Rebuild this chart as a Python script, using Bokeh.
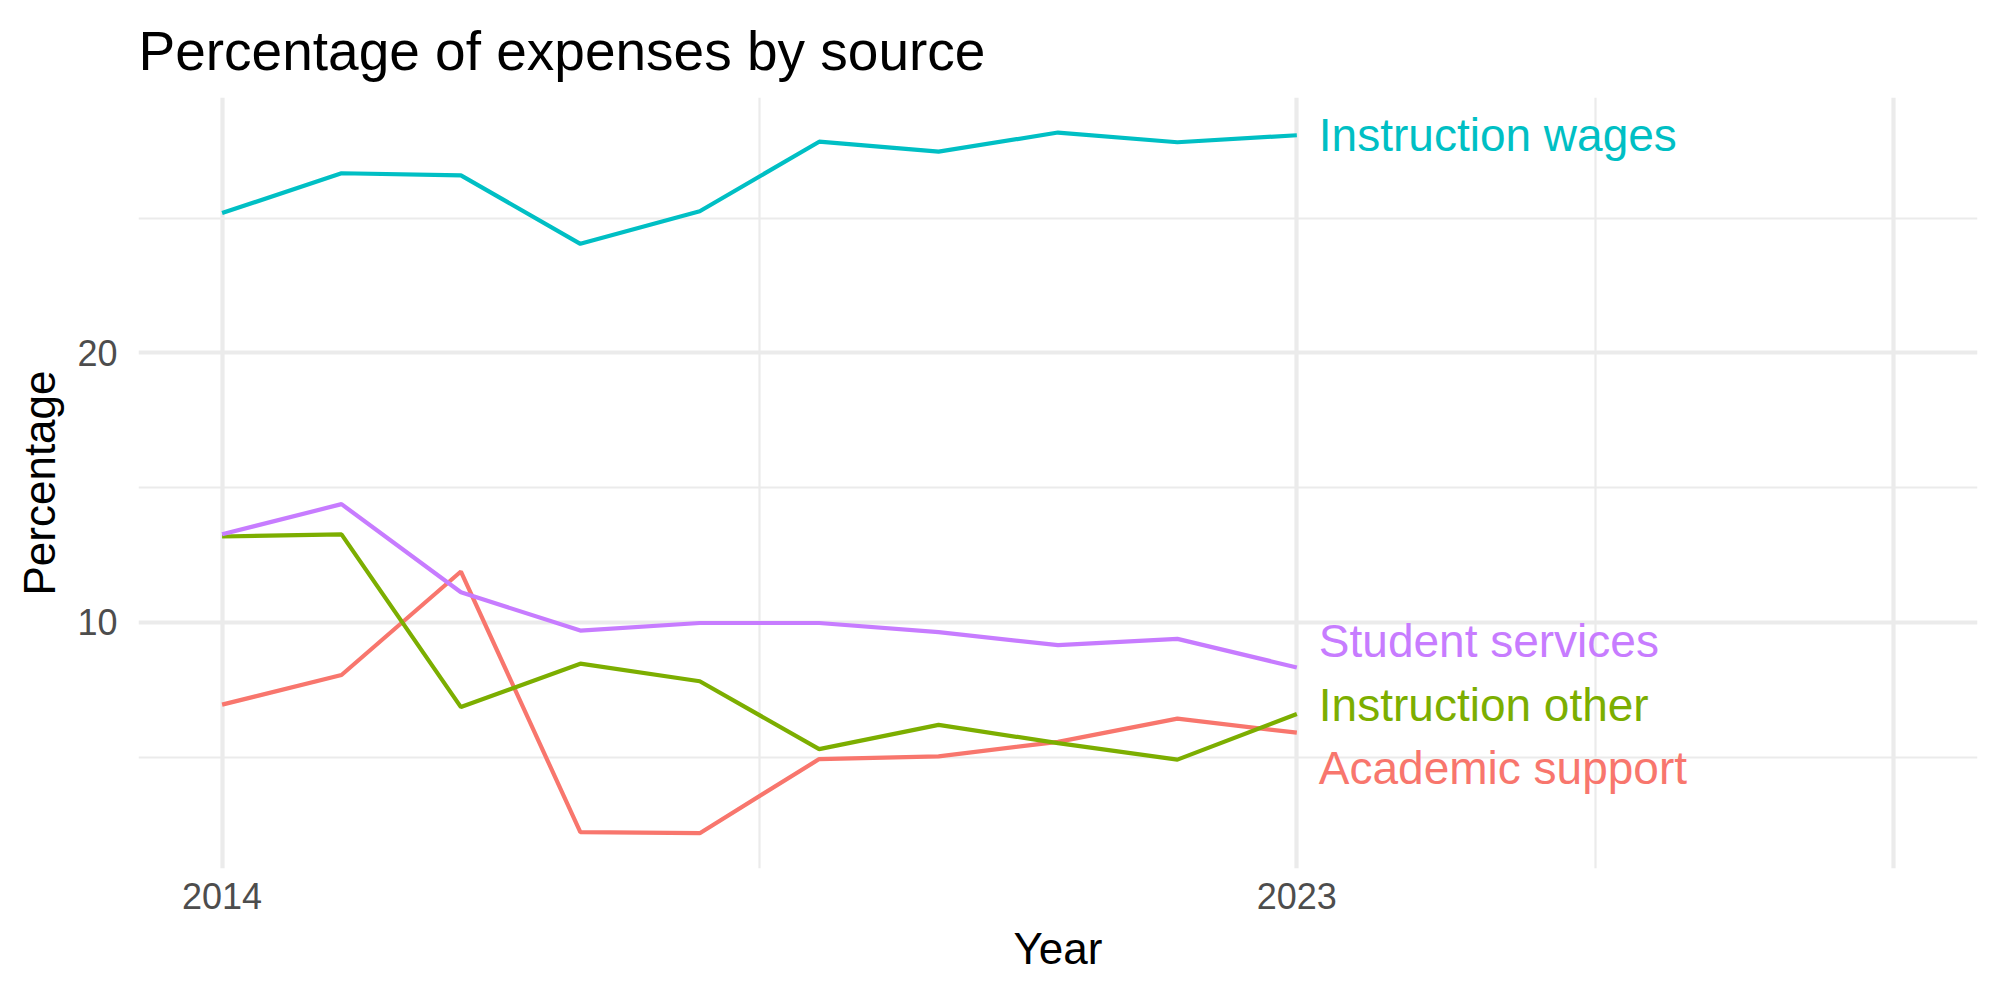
from bokeh.plotting import figure
from bokeh.models import Range1d, FixedTicker, ColumnDataSource
from bokeh.embed import file_html
from bokeh.resources import INLINE
from bokeh.core.properties import value

# Share of total expenses (%) per year and source
years = [2014, 2015, 2016, 2017, 2018, 2019, 2020, 2021, 2022, 2023]
academic_support = [6.95, 8.05, 11.89, 2.22, 2.18, 4.93, 5.03, 5.57, 6.43, 5.91]
instruction_other = [13.19, 13.27, 6.86, 8.47, 7.82, 5.30, 6.20, 5.52, 4.91, 6.60]
instruction_wages = [25.19, 26.67, 26.59, 24.05, 25.26, 27.84, 27.47, 28.18, 27.82, 28.08]
student_services = [13.27, 14.39, 11.12, 9.70, 9.98, 9.98, 9.64, 9.16, 9.39, 8.33]

series_names = ["Academic support", "Instruction other", "Instruction wages", "Student services"]
series_values = [academic_support, instruction_other, instruction_wages, student_services]
series_colors = ["#F8766D", "#7CAE00", "#00BFC4", "#C77CFF"]

x_tick_values = [2014, 2023]
y_tick_values = [10, 20]

FONT = "Liberation Sans"
GRID = "#EBEBEB"


def spread_labels(ys, min_gap):
    """Push end labels apart vertically so neighbours are at least min_gap apart."""
    order = sorted(range(len(ys)), key=lambda i: ys[i])
    clusters = [[i] for i in order]
    pos = {i: ys[i] for i in order}
    changed = True
    while changed:
        changed = False
        for k in range(len(clusters) - 1):
            lo, hi = clusters[k], clusters[k + 1]
            if pos[hi[0]] - pos[lo[-1]] < min_gap:
                merged = lo + hi
                mean = sum(ys[i] for i in merged) / len(merged)
                n = len(merged)
                for j, i in enumerate(merged):
                    pos[i] = mean + (j - (n - 1) / 2) * min_gap
                clusters[k:k + 2] = [merged]
                changed = True
                break
    return [pos[i] for i in range(len(ys))]


p = figure(
    width=2000,
    height=1000,
    output_backend="svg",
    toolbar_location=None,
    x_range=Range1d(2013.3, 2028.7),
    y_range=Range1d(0.87, 29.48),
    title="Percentage of expenses by source",
    min_border_left=138,
    min_border_right=23,
    min_border_top=97,
    min_border_bottom=132,
)

p.background_fill_color = "white"
p.border_fill_color = "white"
p.outline_line_color = None

# Title
p.title.text_font = FONT
p.title.text_font_size = "55px"
p.title.text_font_style = "normal"
p.title.text_color = "black"
p.title.align = "left"
p.title.standoff = 32

# Axes
p.xaxis.ticker = FixedTicker(ticks=x_tick_values)
p.yaxis.ticker = FixedTicker(ticks=y_tick_values)
for ax in (p.xaxis, p.yaxis):
    ax.axis_line_color = None
    ax.major_tick_line_color = None
    ax.minor_tick_line_color = None
    ax.major_tick_out = 0
    ax.major_tick_in = 0
    ax.minor_tick_out = 0
    ax.minor_tick_in = 0
    ax.major_label_text_font = FONT
    ax.major_label_text_font_size = "36px"
    ax.major_label_text_color = "#4D4D4D"
    ax.axis_label_text_font = FONT
    ax.axis_label_text_font_size = "44px"
    ax.axis_label_text_font_style = "normal"
    ax.axis_label_text_color = "black"

p.xaxis.axis_label = "Year"
p.yaxis.axis_label = "Percentage"
p.xaxis.major_label_standoff = 14
p.yaxis.major_label_standoff = 21
p.xaxis.axis_label_standoff = 12
p.yaxis.axis_label_standoff = 10

# Grid
p.xgrid.ticker = FixedTicker(ticks=[2014, 2023, 2028], minor_ticks=[2018.5, 2025.5])
p.ygrid.ticker = FixedTicker(ticks=[10, 20], minor_ticks=[5, 15, 25])
for g in (p.xgrid, p.ygrid):
    g.grid_line_color = GRID
    g.grid_line_width = 4.2
    g.minor_grid_line_color = GRID
    g.minor_grid_line_width = 2.2

# Lines
for name, vals, color in zip(series_names, series_values, series_colors):
    src = ColumnDataSource(dict(x=years, y=vals))
    p.line("x", "y", source=src, line_color=color, line_width=4.2)

# End-of-line labels
last_values = [vals[-1] for vals in series_values]
label_y = spread_labels(last_values, 2.36)
label_src = ColumnDataSource(dict(
    x=[years[-1]] * len(series_names),
    y=label_y,
    text=series_names,
    color=series_colors,
))
p.text(
    "x", "y", text="text", source=label_src,
    text_color="color",
    text_font=value(FONT),
    text_font_size="46px",
    text_align="left",
    text_baseline="middle",
    x_offset=22,
)

open("out.html", "w").write(file_html(p, INLINE))
